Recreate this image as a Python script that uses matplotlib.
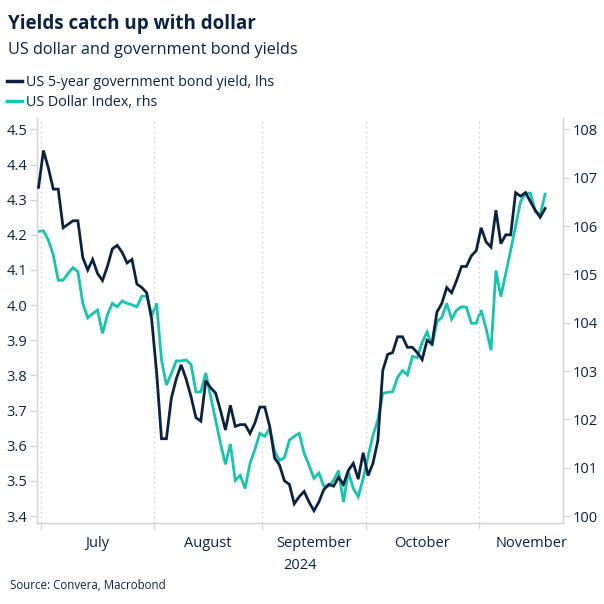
import pandas as pd
import matplotlib.pyplot as plt
from matplotlib.lines import Line2D

plt.rcParams["font.family"] = ["Open Sans", "DejaVu Sans"]

# Business days from 28 Jun 2024 to 20 Nov 2024
dates = pd.bdate_range("2024-06-28", "2024-11-20")

# US 5-year government bond yield (%), lhs
yield_5y = [
    4.335, 4.44, 4.39, 4.33, 4.33, 4.22, 4.23, 4.24, 4.24, 4.135,
    4.10, 4.13, 4.09, 4.07, 4.11, 4.16, 4.17, 4.15, 4.12, 4.13,
    4.06, 4.05, 4.035, 3.96, 3.81, 3.62, 3.62, 3.735, 3.79, 3.83,
    3.79, 3.74, 3.68, 3.67, 3.785, 3.765, 3.75, 3.70, 3.645, 3.715,
    3.655, 3.66, 3.66, 3.635, 3.665, 3.71, 3.71, 3.655, 3.565, 3.545,
    3.50, 3.49, 3.435, 3.455, 3.47, 3.44, 3.415, 3.44, 3.475, 3.49,
    3.485, 3.51, 3.49, 3.53, 3.55, 3.505, 3.58, 3.515, 3.55, 3.615,
    3.815, 3.86, 3.865, 3.91, 3.91, 3.88, 3.88, 3.865, 3.845, 3.90,
    3.89, 3.98, 4.005, 4.05, 4.035, 4.07, 4.11, 4.11, 4.14, 4.155,
    4.22, 4.18, 4.165, 4.27, 4.175, 4.20, 4.20, 4.32, 4.31, 4.32,
    4.295, 4.27, 4.25, 4.275,
]

# US Dollar Index, rhs
dxy = [
    105.89, 105.90, 105.71, 105.40, 104.88, 104.88, 105.02, 105.14, 105.06, 104.40,
    104.10, 104.19, 104.26, 103.78, 104.16, 104.40, 104.33, 104.45, 104.40, 104.37,
    104.33, 104.55, 104.55, 104.14, 104.40, 103.23, 102.71, 102.95, 103.21, 103.21,
    103.23, 103.14, 102.57, 102.57, 102.96, 102.47, 101.99, 101.50, 101.07, 101.49,
    100.74, 100.84, 100.57, 101.09, 101.38, 101.71, 101.65, 101.81, 101.34, 101.15,
    101.21, 101.57, 101.65, 101.71, 101.30, 101.05, 100.78, 100.89, 100.62, 100.62,
    100.74, 100.94, 100.29, 100.91, 100.57, 100.40, 100.77, 101.23, 101.67, 101.99,
    102.54, 102.56, 102.57, 102.87, 103.01, 102.92, 103.30, 103.28, 103.59, 103.81,
    103.52, 104.02, 104.11, 104.40, 104.07, 104.26, 104.33, 104.32, 103.99, 103.99,
    104.26, 103.88, 103.43, 105.08, 104.54, 105.02, 105.50, 106.00, 106.50, 106.68,
    106.68, 106.30, 106.23, 106.66,
]

month_names = ["July", "August", "September", "October", "November"]
left_ticks = [3.4, 3.5, 3.6, 3.7, 3.8, 3.9, 4.0, 4.1, 4.2, 4.3, 4.4, 4.5]
right_ticks = [100, 101, 102, 103, 104, 105, 106, 107, 108]

NAVY = "#0b2341"
TEAL = "#17c4ad"
GREY = "#d4d4d4"

x = list(range(len(dates)))

# posiciones de los cambios de mes (entre dos dias habiles)
month_idx = [d.month for d in dates]
bounds = [i - 0.5 for i in range(1, len(dates)) if month_idx[i] != month_idx[i - 1]]
label_pos = [(bounds[k] + bounds[k + 1]) / 2 for k in range(len(bounds) - 1)]
label_pos.append(bounds[-1] + 10.8)

fig = plt.figure(figsize=(6.04, 6.04), dpi=100)
ax = fig.add_axes([0.0608, 0.134, 0.871, 0.671])
ax2 = ax.twinx()

ax.plot(x, yield_5y, color=NAVY, lw=2.0, solid_joinstyle="miter", zorder=3)
ax2.plot(x, dxy, color=TEAL, lw=2.0, solid_joinstyle="miter", zorder=2)
ax.set_zorder(ax2.get_zorder() + 1)
ax.patch.set_visible(False)

ax.set_xlim(-0.37, 106.6)
ax.set_ylim(3.38, 4.533)
ax2.set_ylim(100 + (3.38 - 3.4) * 8 / 1.1, 100 + (4.533 - 3.4) * 8 / 1.1)

for b in bounds:
    ax.axvline(b, color=GREY, lw=0.9, ls=(0, (1.5, 2.5)), zorder=0)

ax.set_xticks(bounds)
ax.set_xticklabels([])
ax.set_xticks(label_pos, minor=True)
ax.set_xticklabels(month_names, minor=True)
ax.tick_params(axis="x", which="major", length=4, color=GREY, width=0.9)
ax.tick_params(axis="x", which="minor", length=0, pad=9, labelsize=10.5, labelcolor=NAVY)

ax.set_yticks(left_ticks)
ax.set_yticklabels([f"{v:.1f}" for v in left_ticks])
ax.tick_params(axis="y", length=5, color=GREY, width=0.9, labelsize=10.5, labelcolor=NAVY, pad=2)
ax2.set_yticks(right_ticks)
ax2.tick_params(axis="y", length=5, color=GREY, width=0.9, labelsize=10.5, labelcolor=NAVY, pad=2)

for a in (ax, ax2):
    a.spines["top"].set_visible(False)
    for s in ("left", "right", "bottom"):
        a.spines[s].set_color(GREY)
        a.spines[s].set_linewidth(0.9)

ax.text(0.5, -0.105, "2024", transform=ax.transAxes, ha="center", va="center",
        fontsize=10.5, color=NAVY)

fig.text(0.013, 0.96, "Yields catch up with dollar", fontsize=13.5, fontweight="bold",
         color=NAVY, va="center")
fig.text(0.013, 0.918, "US dollar and government bond yields", fontsize=11.7,
         color=NAVY, va="center")

handles = [Line2D([], [], color=NAVY, lw=2.5), Line2D([], [], color=TEAL, lw=2.5)]
fig.legend(handles, ["US 5-year government bond yield, lhs", "US Dollar Index, rhs"],
           loc="upper left", bbox_to_anchor=(0.012, 0.876), frameon=False,
           fontsize=10.3, labelcolor=NAVY, handlelength=1.0, handletextpad=0.3,
           labelspacing=0.33, borderpad=0, borderaxespad=0)

fig.text(0.017, 0.03, "Source: Convera, Macrobond", fontsize=8.3, color=NAVY, va="center")

fig.savefig("out.png", dpi=100)
